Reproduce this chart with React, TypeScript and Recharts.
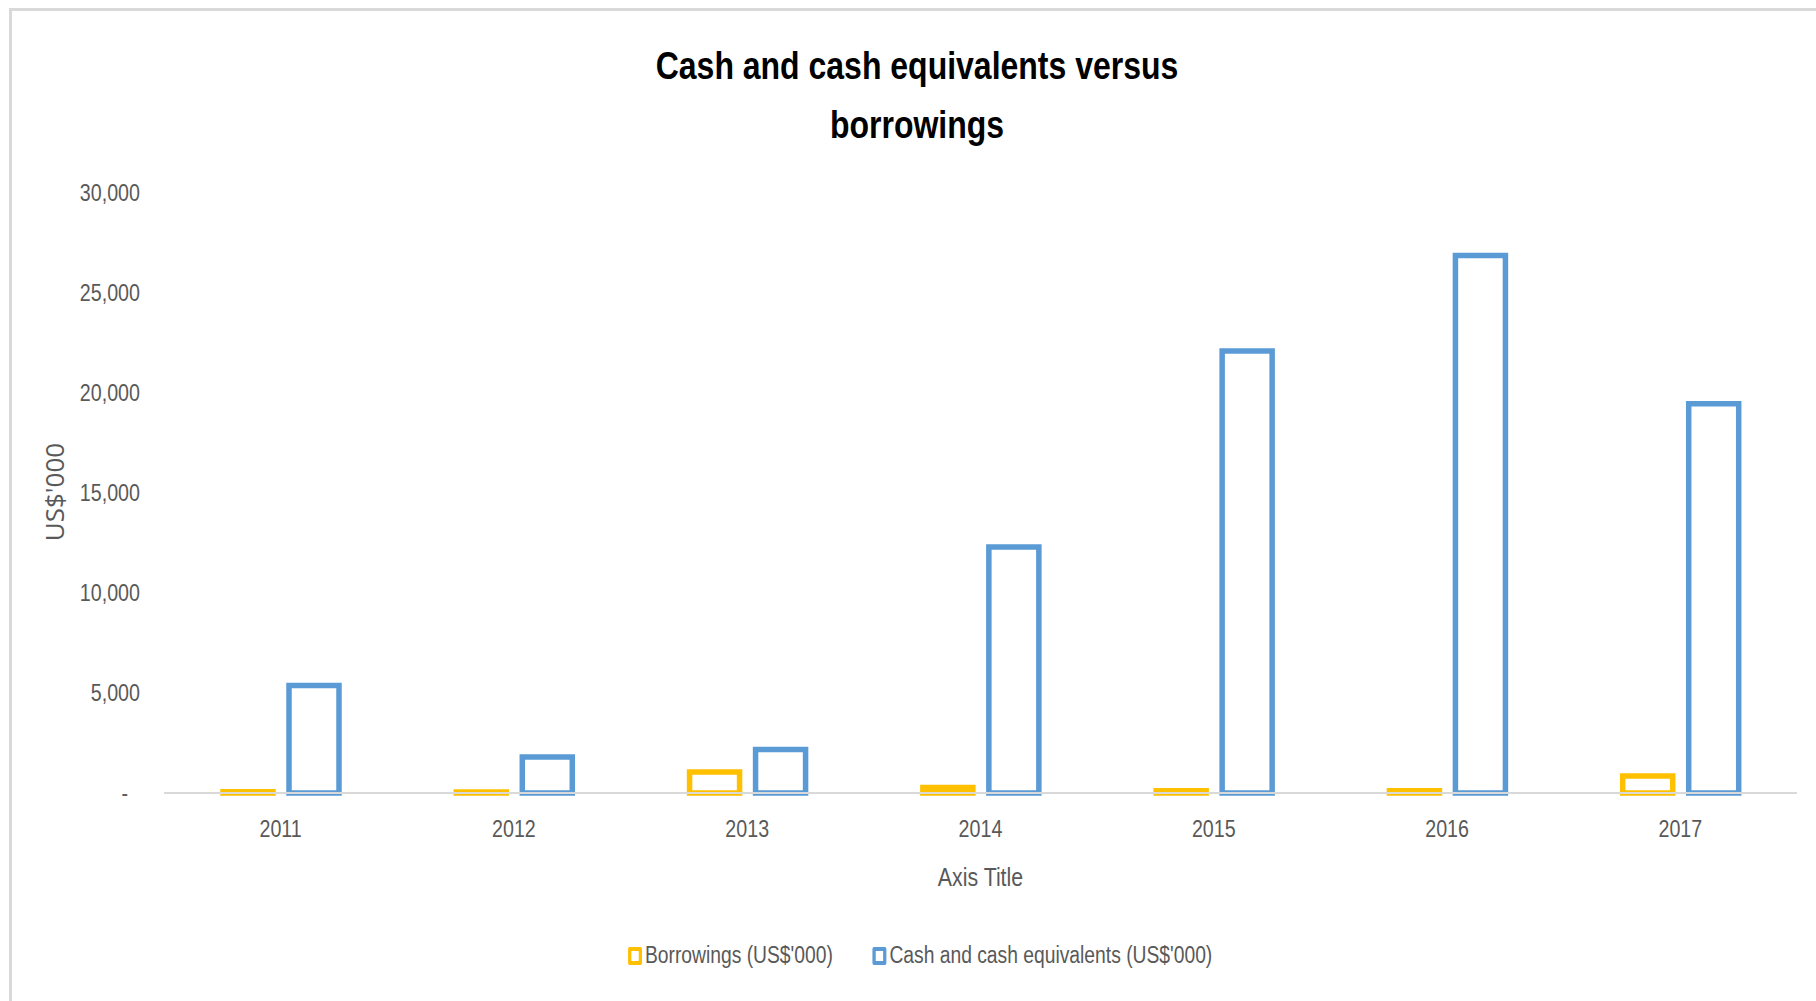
import { Bar, BarChart, Legend, XAxis, YAxis } from "recharts";

const years = ["2011", "2012", "2013", "2014", "2015", "2016", "2017"];
const borrowings = [60, 50, 1050, 270, 110, 110, 850];
const cashEquivalents = [5375, 1800, 2175, 12300, 22100, 26880, 19460];
const yTicks = [0, 5000, 10000, 15000, 20000, 25000, 30000];

const series = [
  { key: "borrowings", name: "Borrowings (US$'000)", color: "#FFC000" },
  { key: "cash", name: "Cash and cash equivalents (US$'000)", color: "#5B9BD5" },
];

const data = years.map((year, i) => ({
  year,
  borrowings: borrowings[i],
  cash: cashEquivalents[i],
}));

// no narrow font installed: squeeze Liberation Sans horizontally instead
const FONT = "'Liberation Sans', Arial, sans-serif";
const SQUEEZE = 0.82;
const GREY = "#595959";

function NarrowText({ x, y, size, anchor = "middle", children }: any) {
  return (
    <text
      transform={`translate(${x} ${y}) scale(${SQUEEZE} 1)`}
      textAnchor={anchor}
      dominantBaseline="central"
      fill={GREY}
      fontSize={size}
      fontFamily={FONT}
    >
      {children}
    </text>
  );
}

function YTick({ y, payload }: any) {
  const v = payload.value as number;
  return (
    <NarrowText x={v === 0 ? 128 : 140} y={y} size={24} anchor="end">
      {v === 0 ? "-" : v.toLocaleString("en-US")}
    </NarrowText>
  );
}

function XTick({ x, y, payload }: any) {
  return (
    <NarrowText x={x} y={y + 28} size={24}>
      {payload.value}
    </NarrowText>
  );
}

function LegendContent() {
  return (
    <div
      style={{
        display: "flex",
        justifyContent: "center",
        gap: 48,
        fontFamily: FONT,
        fontSize: 23.5,
        color: GREY,
        transform: `translateX(12px) scaleX(${SQUEEZE})`,
        transformOrigin: "center",
      }}
    >
      {series.map((s) => (
        <div key={s.key} style={{ display: "flex", alignItems: "center", gap: 4 }}>
          <span
            style={{
              display: "inline-block",
              width: 9,
              height: 10,
              border: `4px solid ${s.color}`,
              borderRadius: 2,
              background: "#fff",
            }}
          />
          <span>{s.name}</span>
        </div>
      ))}
    </div>
  );
}

export default function App() {
  return (
    <div style={{ position: "absolute", left: 0, top: 0, width: 1816, height: 1001, background: "#fff", overflow: "hidden" }}>
      <div
        style={{
          position: "absolute",
          left: 9,
          top: 8,
          right: -10,
          bottom: -10,
          borderTop: "3px solid #d9d9d9",
          borderLeft: "3px solid #d9d9d9",
        }}
      />
      <div
        style={{
          position: "absolute",
          left: 0,
          top: 36,
          width: 1834,
          textAlign: "center",
          fontFamily: FONT,
          fontWeight: "bold",
          fontSize: 39,
          lineHeight: "59px",
          color: "#000",
          transform: `scaleX(${SQUEEZE})`,
          transformOrigin: "center",
        }}
      >
        Cash and cash equivalents versus
        <br />
        borrowings
      </div>
      <div style={{ position: "absolute", left: 0, top: 0 }}>
        <BarChart
          width={1816}
          height={1001}
          data={data}
          margin={{ top: 193, right: 19, left: 64, bottom: 108 }}
          barSize={50}
          barGap={16}
        >
          <XAxis
            dataKey="year"
            height={100}
            axisLine={{ stroke: "#d9d9d9", strokeWidth: 2 }}
            tickLine={false}
            tick={<XTick />}
            interval={0}
            label={{
              content: ({ viewBox }: any) => (
                <NarrowText x={viewBox.x + viewBox.width / 2} y={877} size={26}>
                  Axis Title
                </NarrowText>
              ),
            }}
          />
          <YAxis
            width={100}
            domain={[0, 30000]}
            ticks={yTicks}
            axisLine={false}
            tickLine={false}
            tick={<YTick />}
            label={{
              content: () => (
                <text
                  x={54}
                  y={492}
                  transform="rotate(-90 54 492)"
                  textAnchor="middle"
                  dominantBaseline="central"
                  fill={GREY}
                  fontSize={26}
                  fontFamily="'Open Sans', sans-serif"
                >
                  US$'000
                </text>
              ),
            }}
          />
          <Legend
            verticalAlign="middle"
            align="center"
            layout="horizontal"
            content={<LegendContent />}
            wrapperStyle={{ top: 942, left: 0, width: 1816 }}
          />
          {series.map((s) => (
            <Bar
              key={s.key}
              dataKey={s.key}
              name={s.name}
              fill="#ffffff"
              stroke={s.color}
              strokeWidth={5.5}
              isAnimationActive={false}
            />
          ))}
        </BarChart>
      </div>
    </div>
  );
}
